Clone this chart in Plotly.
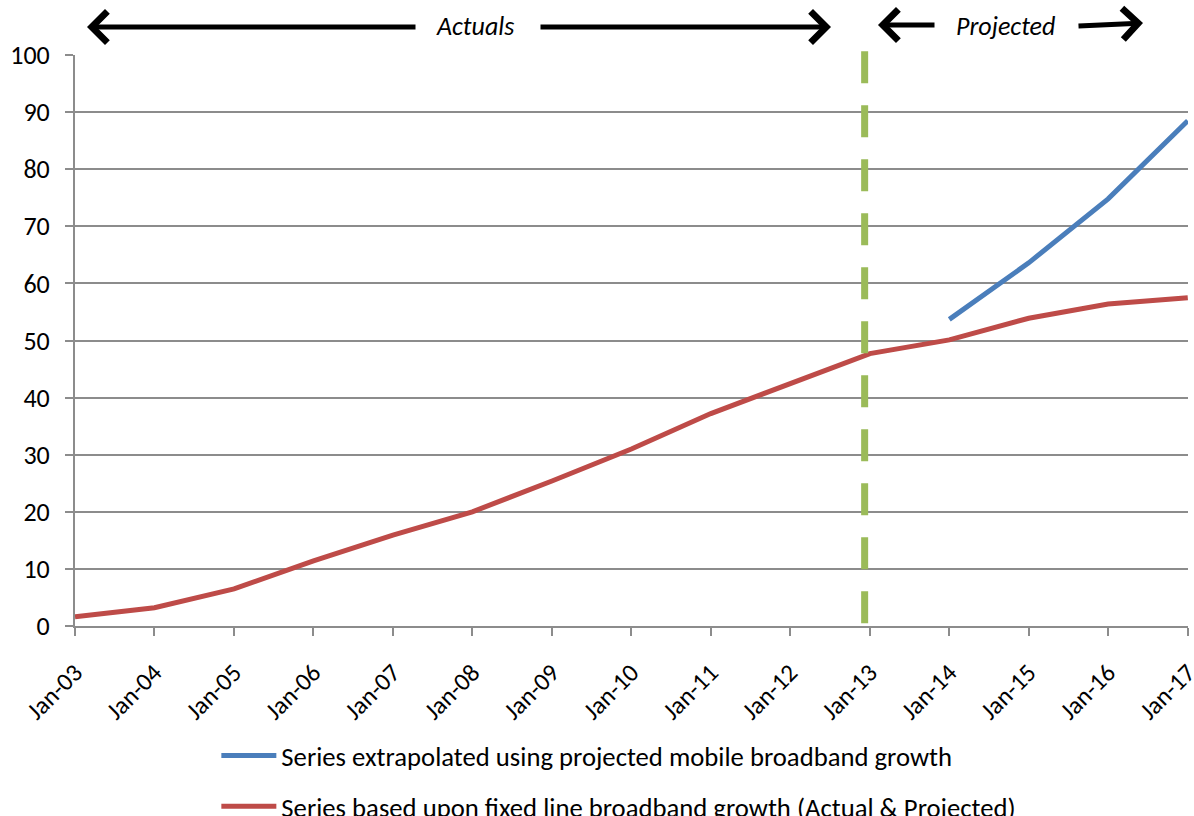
import plotly.graph_objects as go

years = ["2003-01-01", "2004-01-01", "2005-01-01", "2006-01-01", "2007-01-01",
         "2008-01-01", "2009-01-01", "2010-01-01", "2011-01-01", "2012-01-01",
         "2013-01-01", "2014-01-01", "2015-01-01", "2016-01-01", "2017-01-01"]
fixed_line = [1.6, 3.2, 6.5, 11.4, 15.9, 20.0, 25.4, 31.0, 37.2, 42.4,
              47.7, 50.1, 53.9, 56.4, 57.5]
mobile_years = ["2014-01-01", "2015-01-01", "2016-01-01", "2017-01-01"]
mobile = [53.7, 63.6, 74.8, 88.5]
split_date = "2012-12-08"

name_mobile = "Series extrapolated using projected mobile broadband growth"
name_fixed = "Series based upon fixed line broadband growth (Actual & Projected)"

FONT = "Carlito, Lato, sans-serif"
GRID = "#8c8c8c"

fig = go.Figure()
fig.add_trace(go.Scatter(x=mobile_years, y=mobile, mode="lines", name=name_mobile,
                         line=dict(color="#4a7ebb", width=5), legendgroup="a"))
fig.add_trace(go.Scatter(x=years, y=fixed_line, mode="lines", name=name_fixed,
                         line=dict(color="#be4b48", width=5), legendgroup="b"))

fig.add_shape(type="line", xref="x", yref="paper", x0=split_date, x1=split_date,
              y0=0.005, y1=1.0088, line=dict(color="#9bbb59", width=7, dash="32px,22px"))

# top arrows
arrow_common = dict(xref="paper", yref="paper", axref="pixel", ayref="pixel",
                    showarrow=True, arrowhead=4, arrowsize=1.2, arrowwidth=5,
                    arrowcolor="black", text="")
def px(xp):
    return (xp - 75) / 1113.0
def py(yp):
    return (626 - yp) / 571.0

fig.add_annotation(x=px(87), y=py(27), ax=330, ay=0, **arrow_common)
fig.add_annotation(x=px(831), y=py(27), ax=-292, ay=0, **arrow_common)
fig.add_annotation(x=px(878), y=py(25), ax=58, ay=0, **arrow_common)
fig.add_annotation(x=px(1143), y=py(23), ax=-66, ay=3, **arrow_common)
text_font = dict(family=FONT, size=26, color="black")
fig.add_annotation(x=px(475), y=py(26), xref="paper", yref="paper", text="<i>Actuals</i>",
                   showarrow=False, font=text_font, xanchor="center", yanchor="middle")
fig.add_annotation(x=px(1005), y=py(26), xref="paper", yref="paper", text="<i>Projected</i>",
                   showarrow=False, font=text_font, xanchor="center", yanchor="middle")

fig.update_layout(
    width=1194, height=816,
    margin=dict(l=75, r=6, t=55, b=190, autoexpand=False),
    plot_bgcolor="white", paper_bgcolor="white",
    font=dict(family=FONT, size=26, color="black"),
    showlegend=True,
    legend=dict(x=0.127, y=-0.185, xanchor="left", yanchor="top",
                font=dict(family=FONT, size=26.7, color="black"),
                tracegroupgap=13, itemwidth=55, bgcolor="rgba(0,0,0,0)"),
)
fig.update_xaxes(type="date", range=["2003-01-01", "2017-01-02"],
                 tickvals=years, tickformat="%b-%y", tickangle=-45,
                 showgrid=False, showline=True, linecolor=GRID, linewidth=2,
                 ticks="outside", ticklen=8, tickwidth=2, tickcolor=GRID,
                 ticklabeloverflow="allow", ticklabelstandoff=12,
                 tickfont=dict(family=FONT, size=25, color="black"))
fig.update_yaxes(range=[0, 100], dtick=10, showgrid=True, gridcolor=GRID, gridwidth=2,
                 showline=True, linecolor=GRID, linewidth=2, zeroline=False,
                 ticks="outside", ticklen=8, tickwidth=2, tickcolor=GRID,
                 ticklabelstandoff=10,
                 tickfont=dict(family=FONT, size=26, color="black"))

fig.write_html("out.html")
